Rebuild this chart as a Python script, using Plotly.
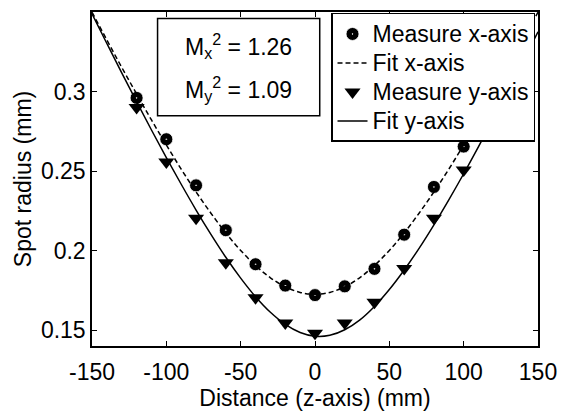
import plotly.graph_objects as go

# Measured data (z in mm, radius in mm)
z_meas = [-120, -100, -80, -60, -40, -20, 0, 20, 40, 60, 80, 100]
x_meas = [0.296, 0.270, 0.241, 0.2128, 0.1914, 0.178, 0.172, 0.1775, 0.1885, 0.210, 0.240, 0.2654]
y_meas = [0.290, 0.2557, 0.2203, 0.1924, 0.1704, 0.1544, 0.148, 0.1544, 0.1675, 0.1888, 0.2203, 0.2507]

# Fit curves
z_fit = [-150, -140, -130, -120, -110, -100, -90, -80, -70, -60, -50, -40, -30, -20, -10,
         0, 10, 20, 30, 40, 50, 60, 70, 80, 90, 100, 110, 120, 130, 140, 150]
x_fit = [0.3499, 0.3324, 0.3152, 0.2985, 0.2821, 0.2664, 0.2512, 0.2369, 0.2235, 0.2111,
         0.2001, 0.1906, 0.1829, 0.1772, 0.1737, 0.1725, 0.1737, 0.1772, 0.1829, 0.1906,
         0.2001, 0.2111, 0.2235, 0.2369, 0.2512, 0.2664, 0.2821, 0.2985, 0.3152, 0.3324, 0.3499]
y_fit = [0.3489, 0.3302, 0.3117, 0.2936, 0.2758, 0.2585, 0.2417, 0.2255, 0.2102, 0.1958,
         0.1827, 0.1710, 0.1612, 0.1536, 0.1485, 0.1461, 0.1467, 0.1502, 0.1563, 0.1649,
         0.1755, 0.1878, 0.2014, 0.2162, 0.2319, 0.2483, 0.2654, 0.2829, 0.3008, 0.3191, 0.3376]

x_ticks = [-150, -100, -50, 0, 50, 100, 150]
x_tick_text = ["-150", "-100", "-50", "0", "50", "100", "150"]
y_ticks = [0.15, 0.2, 0.25, 0.3]
y_tick_text = ["0.15", "0.2", "0.25", "0.3"]

series_names = ["Measure x-axis", "Fit x-axis", "Measure y-axis", "Fit y-axis"]

FONT = "Liberation Sans, Arial, sans-serif"
FS = 23


def lg(name):
    return '<span style="font-size:23px">' + name + "</span>"


fig = go.Figure()
fig.add_trace(go.Scatter(x=z_meas, y=x_meas, mode="markers", name=lg(series_names[0]),
                         marker=dict(symbol="circle-dot", size=13, color="black",
                                     line=dict(color="white", width=0.8))))
fig.add_trace(go.Scatter(x=z_fit, y=x_fit, mode="lines", name=lg(series_names[1]), line_shape="spline",
                         line=dict(color="black", width=1.5, dash="5px,3px")))
fig.add_trace(go.Scatter(x=z_meas, y=y_meas, mode="markers", name=lg(series_names[2]),
                         marker=dict(symbol="triangle-down", size=14, color="black")))
fig.add_trace(go.Scatter(x=z_fit, y=y_fit, mode="lines", name=lg(series_names[3]), line_shape="spline",
                         line=dict(color="black", width=1.5)))

axis_common = dict(showline=True, linecolor="black", linewidth=1.5, mirror="ticks",
                   ticks="inside", ticklen=5, tickwidth=1, tickcolor="black",
                   showgrid=False, zeroline=False,
                   tickfont=dict(family=FONT, size=FS, color="black"))

fig.update_xaxes(range=[-150, 150], tickvals=x_ticks, ticktext=x_tick_text,
                 ticklabelstandoff=5,
                 title=dict(text="Distance (z-axis) (mm)", font=dict(family=FONT, size=FS, color="black"),
                            standoff=0),
                 **axis_common)
fig.update_yaxes(range=[0.14, 0.35], tickvals=y_ticks, ticktext=y_tick_text,
                 ticklabelstandoff=0,
                 title=dict(text="Spot radius (mm)", font=dict(family=FONT, size=FS, color="black"),
                            standoff=3),
                 **axis_common)

# M^2 text box
fig.add_shape(type="rect", xref="paper", yref="paper", x0=0.147, x1=0.5106, y0=0.689, y1=0.9806,
              line=dict(color="black", width=1.5), fillcolor="white", layer="above")
fig.add_annotation(xref="paper", yref="paper", x=0.328, y=0.8986, showarrow=False,
                   xanchor="center", yanchor="middle",
                   text="M<sub>x</sub><sup>2</sup> = 1.26",
                   font=dict(family=FONT, size=FS, color="black"))
fig.add_annotation(xref="paper", yref="paper", x=0.328, y=0.768, showarrow=False,
                   xanchor="center", yanchor="middle",
                   text="M<sub>y</sub><sup>2</sup> = 1.09",
                   font=dict(family=FONT, size=FS, color="black"))

fig.update_layout(
    width=567, height=411,
    margin=dict(l=92, r=24, t=10, b=56),
    paper_bgcolor="white", plot_bgcolor="white",
    font=dict(family=FONT, color="black"),
    legend=dict(x=0.9933, y=0.9971, xanchor="right", yanchor="top",
                bgcolor="white", bordercolor="black", borderwidth=1.5,
                font=dict(family=FONT, size=20, color="black"),
                tracegroupgap=0, itemwidth=30),
)

fig.write_html("out.html")
